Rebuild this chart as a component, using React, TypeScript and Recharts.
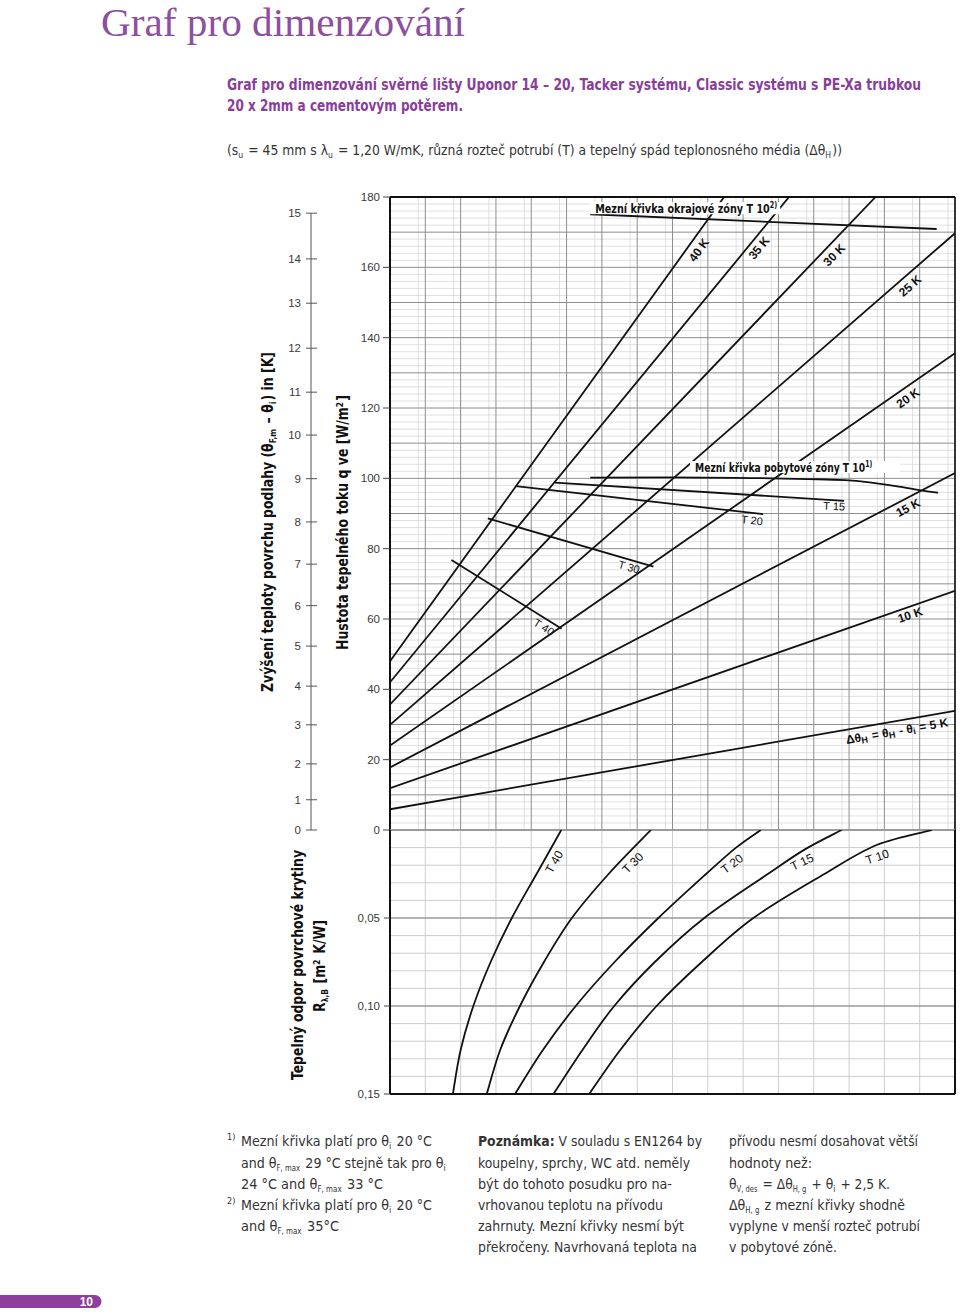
import React from "react";
import {
  LineChart,
  Line,
  XAxis,
  YAxis,
  CartesianGrid,
  ReferenceLine,
  ReferenceDot,
} from "recharts";

const NARROW = '"Liberation Sans Narrow", "DejaVu Sans Condensed", "Liberation Sans", sans-serif';
const SANS = '"Liberation Sans", "DejaVu Sans", sans-serif';
const SERIF = '"Liberation Serif", "DejaVu Serif", serif';
const PURPLE = "#8a3d99";
const TITLE_PURPLE = "#8d4f9f";
const INK = "#111";
const TEXT = "#333";

// ---------- upper diagram: q [W/m2] over the shared x scale (16 grid columns)
const qTicks = [0, 20, 40, 60, 80, 100, 120, 140, 160, 180];
const kLabels = ["0", "1", "2", "3", "4", "5", "6", "7", "8", "9", "10", "11", "12", "13", "14", "15"];
const kTickQ = [0, 8.6, 18.8, 29.9, 40.9, 52.3, 63.8, 75.6, 87.6, 99.9, 112.3, 124.5, 137.0, 149.8, 162.4, 175.4];

const dt40 = [{ x: 0, q: 48.0 }, { x: 9.46, q: 180 }];
const dt35 = [{ x: 0, q: 42.0 }, { x: 11.3, q: 180 }];
const dt30 = [{ x: 0, q: 35.7 }, { x: 13.75, q: 180 }];
const dt25 = [{ x: 0, q: 29.9 }, { x: 16, q: 169.7 }];
const dt20 = [{ x: 0, q: 24.0 }, { x: 16, q: 135.6 }];
const dt15 = [{ x: 0, q: 17.8 }, { x: 16, q: 101.5 }];
const dt10 = [{ x: 0, q: 11.9 }, { x: 16, q: 68.0 }];
const dt5 = [{ x: 0, q: 5.9 }, { x: 16, q: 33.9 }];

const limT40 = [{ x: 1.74, q: 76.8 }, { x: 4.86, q: 57.2 }];
const limT30 = [{ x: 2.77, q: 88.6 }, { x: 7.46, q: 74.9 }];
const limT20 = [{ x: 3.56, q: 97.8 }, { x: 10.57, q: 89.8 }];
const limT15 = [{ x: 4.67, q: 98.8 }, { x: 12.86, q: 93.6 }];
const limLiving = [
  { x: 5.67, q: 100.2 },
  { x: 8.0, q: 100.3 },
  { x: 10.78, q: 100.0 },
  { x: 11.83, q: 99.8 },
  { x: 12.88, q: 99.5 },
  { x: 14.46, q: 97.6 },
  { x: 15.09, q: 96.5 },
  { x: 15.52, q: 95.9 },
];
const limEdge = [{ x: 5.67, q: 175.1 }, { x: 15.48, q: 170.9 }];

const upperSeries = [
  { name: "40 K", data: dt40, curve: "linear" },
  { name: "35 K", data: dt35, curve: "linear" },
  { name: "30 K", data: dt30, curve: "linear" },
  { name: "25 K", data: dt25, curve: "linear" },
  { name: "20 K", data: dt20, curve: "linear" },
  { name: "15 K", data: dt15, curve: "linear" },
  { name: "10 K", data: dt10, curve: "linear" },
  { name: "5 K", data: dt5, curve: "linear" },
  { name: "T 40", data: limT40, curve: "linear" },
  { name: "T 30", data: limT30, curve: "linear" },
  { name: "T 20", data: limT20, curve: "linear" },
  { name: "T 15", data: limT15, curve: "linear" },
  { name: "T 10 living", data: limLiving, curve: "monotone" },
  { name: "T 10 edge", data: limEdge, curve: "linear" },
];

// ---------- lower diagram: R [m2K/W] (downwards) over the same x scale
const rTicks = [0.05, 0.1, 0.15];
const tc40 = [
  { x: 4.85, r: 0 }, { x: 4.15, r: 0.025 }, { x: 3.45, r: 0.05 }, { x: 2.85, r: 0.075 },
  { x: 2.36, r: 0.1 }, { x: 2.0, r: 0.125 }, { x: 1.78, r: 0.15 },
];
const tc30 = [
  { x: 7.39, r: 0 }, { x: 6.19, r: 0.025 }, { x: 5.15, r: 0.05 }, { x: 4.36, r: 0.075 },
  { x: 3.68, r: 0.1 }, { x: 3.12, r: 0.125 }, { x: 2.74, r: 0.15 },
];
const tc20 = [
  { x: 10.5, r: 0 }, { x: 9.8, r: 0.01 }, { x: 8.95, r: 0.025 }, { x: 7.6, r: 0.05 },
  { x: 6.36, r: 0.075 }, { x: 5.26, r: 0.1 }, { x: 4.33, r: 0.125 }, { x: 3.54, r: 0.15 },
];
const tc15 = [
  { x: 12.79, r: 0 }, { x: 11.75, r: 0.011 }, { x: 10.7, r: 0.025 }, { x: 8.9, r: 0.05 },
  { x: 7.5, r: 0.075 }, { x: 6.35, r: 0.1 }, { x: 5.45, r: 0.125 }, { x: 4.63, r: 0.15 },
];
const tc10 = [
  { x: 15.35, r: 0 }, { x: 13.78, r: 0.0085 }, { x: 12.3, r: 0.025 }, { x: 10.29, r: 0.05 },
  { x: 8.83, r: 0.075 }, { x: 7.55, r: 0.1 }, { x: 6.52, r: 0.125 }, { x: 5.64, r: 0.15 },
];
const lowerSeries = [
  { name: "T 40", data: tc40 },
  { name: "T 30", data: tc30 },
  { name: "T 20", data: tc20 },
  { name: "T 15", data: tc15 },
  { name: "T 10", data: tc10 },
];

// grid lines
const minorX = Array.from({ length: 81 }, (_, i) => i / 5).filter((_, i) => i % 5 !== 0);
const majorX = Array.from({ length: 17 }, (_, i) => i);
const minorQ = Array.from({ length: 91 }, (_, i) => i * 2).filter((v) => v % 10 !== 0);
const majorQ = Array.from({ length: 19 }, (_, i) => i * 10);
const minorR = Array.from({ length: 16 }, (_, i) => i / 100).filter((_, i) => i % 5 !== 0);

// annotation anchors in data units
const upperLabels = [
  { text: "40 K", x: 8.75, q: 164.9, angle: -54 },
  { text: "35 K", x: 10.45, q: 165.5, angle: -51 },
  { text: "30 K", x: 12.58, q: 163.5, angle: -46 },
  { text: "25 K", x: 14.73, q: 154.7, angle: -41 },
  { text: "20 K", x: 14.67, q: 122.8, angle: -35 },
  { text: "15 K", x: 14.67, q: 91.6, angle: -28 },
  { text: "10 K", x: 14.73, q: 61.1, angle: -19 },
];
const upperTLabels = [
  { text: "T 40", x: 4.36, q: 57.7, angle: 32 },
  { text: "T 30", x: 6.77, q: 74.8, angle: 16 },
  { text: "T 20", x: 10.25, q: 88.1, angle: 6 },
  { text: "T 15", x: 12.58, q: 92.1, angle: 3 },
];
const lowerLabels = [
  { text: "T 40", x: 4.65, r: 0.0182, angle: -60 },
  { text: "T 30", x: 6.88, r: 0.0188, angle: -45 },
  { text: "T 20", x: 9.69, r: 0.0193, angle: -37 },
  { text: "T 15", x: 11.67, r: 0.0182, angle: -25 },
  { text: "T 10", x: 13.8, r: 0.0153, angle: -18 },
];

// smooth curve through the points (Catmull-Rom as cubic Béziers), used as a Line type
function smoothCurve(context: any) {
  let pts: number[][] = [];
  return {
    areaStart() {},
    areaEnd() {},
    lineStart() {
      pts = [];
    },
    point(x: number, y: number) {
      pts.push([+x, +y]);
    },
    lineEnd() {
      const n = pts.length;
      if (!n) return;
      context.moveTo(pts[0][0], pts[0][1]);
      for (let i = 0; i < n - 1; i++) {
        const p0 = pts[Math.max(i - 1, 0)];
        const p1 = pts[i];
        const p2 = pts[i + 1];
        const p3 = pts[Math.min(i + 2, n - 1)];
        context.bezierCurveTo(
          p1[0] + (p2[0] - p0[0]) / 6,
          p1[1] + (p2[1] - p0[1]) / 6,
          p2[0] - (p3[0] - p1[0]) / 6,
          p2[1] - (p3[1] - p1[1]) / 6,
          p2[0],
          p2[1]
        );
      }
    },
  };
}

const Sub = ({ t, s = 9, d = 3 }: { t: string; s?: number; d?: number }) => (
  <>
    <tspan dy={d} fontSize={s}>{t}</tspan>
    <tspan dy={-d}>{"\u200a"}</tspan>
  </>
);
const Sup = ({ t, s = 8 }: { t: string; s?: number }) => (
  <>
    <tspan dy={-5} fontSize={s}>{t}</tspan>
    <tspan dy={5}>{"\u200a"}</tspan>
  </>
);

const rot = (content: React.ReactNode, angle: number, style: any) => (p: any) => (
  <text
    x={p.cx}
    y={p.cy}
    transform={`rotate(${angle} ${p.cx} ${p.cy})`}
    textAnchor="middle"
    dominantBaseline="central"
    fill={INK}
    {...style}
  >
    {content}
  </text>
);

const boxed = (content: React.ReactNode, len: number, boxW: number) => (p: any) => (
  <g>
    <rect x={p.cx - 5} y={p.cy - 11} width={boxW} height={12} fill="#fff" />
    <text
      x={p.cx}
      y={p.cy}
      textLength={len}
      lengthAdjust="spacingAndGlyphs"
      fontFamily={NARROW}
      fontWeight="bold"
      fontSize={12}
      fill={INK}
    >
      {content}
    </text>
  </g>
);

const UP_PLOT_BOTTOM = 645; // 830 - 185
const KAX = 71; // 311 - 240

function KTick(props: any) {
  const { y, payload } = props;
  const i = kTickQ.indexOf(payload.value);
  return (
    <g>
      {i === kTickQ.length - 1 && (
        <line x1={KAX} x2={KAX} y1={y} y2={UP_PLOT_BOTTOM} stroke="#555" strokeWidth={1} />
      )}
      <line x1={KAX - 5} x2={KAX + 6} y1={y} y2={y} stroke="#555" strokeWidth={1} />
      <text x={KAX - 10} y={y} dy={4} textAnchor="end" fontSize={11.5} fontFamily={SANS} fill="#3a3a3a">
        {kLabels[i]}
      </text>
    </g>
  );
}

function UpperChart() {
  return (
    <LineChart width={720} height={650} margin={{ top: 12, right: 5, bottom: 5, left: 0 }}>
      <CartesianGrid verticalValues={minorX} horizontalValues={minorQ} stroke="#d2d2d2" strokeWidth={0.7} />
      <CartesianGrid verticalValues={majorX} horizontalValues={majorQ} stroke="#8e8e8e" strokeWidth={1} />
      <XAxis type="number" dataKey="x" domain={[0, 16]} allowDataOverflow hide />
      <YAxis
        type="number"
        domain={[0, 180]}
        ticks={qTicks}
        interval={0}
        width={60}
        tickSize={7}
        tickMargin={3}
        axisLine={false}
        tickLine={{ stroke: "#444" }}
        tick={{ fontSize: 11.5, fill: "#3a3a3a", fontFamily: SANS }}
        allowDataOverflow
      />
      <YAxis
        yAxisId="k"
        type="number"
        domain={[0, 180]}
        ticks={kTickQ}
        interval={0}
        width={90}
        axisLine={false}
        tickLine={false}
        tick={(p: any) => <KTick {...p} />}
        allowDataOverflow
      />
      <ReferenceLine x={0} stroke={INK} strokeWidth={2} />
      <ReferenceLine y={180} stroke={INK} strokeWidth={2} />
      <ReferenceLine x={16} stroke={INK} strokeWidth={1.6} />
      {upperSeries.map((s) => (
        <Line
          key={s.name}
          name={s.name}
          data={s.data}
          dataKey="q"
          type={s.curve as any}
          stroke={INK}
          strokeWidth={1.8}
          dot={false}
          activeDot={false}
          isAnimationActive={false}
        />
      ))}
      {upperLabels.map((l) => (
        <ReferenceDot
          key={l.text}
          x={l.x}
          y={l.q}
          r={1}
          shape={rot(l.text, l.angle, { fontFamily: SANS, fontWeight: "bold", fontSize: 12 })}
        />
      ))}
      {upperTLabels.map((l) => (
        <ReferenceDot
          key={"u" + l.text}
          x={l.x}
          y={l.q}
          r={1}
          shape={rot(l.text, l.angle, { fontFamily: SANS, fontSize: 11 })}
        />
      ))}
      <ReferenceDot
        x={14.36}
        y={28.1}
        r={1}
        shape={rot(
          <>
            Δθ<Sub t="H" /> = θ<Sub t="H" /> - θ<Sub t="i" /> = 5 K
          </>,
          -10,
          { fontFamily: SANS, fontWeight: "bold", fontSize: 12 }
        )}
      />
      <ReferenceDot
        x={5.81}
        y={175.4}
        r={1}
        shape={boxed(
          <>
            Mezní křivka okrajové zóny T 10<Sup t="2)" />
          </>,
          183,
          190
        )}
      />
      <ReferenceDot
        x={8.64}
        y={101.8}
        r={1}
        shape={boxed(
          <>
            Mezní křivka pobytové zóny T 10<Sup t="1)" />
          </>,
          178,
          210
        )}
      />
    </LineChart>
  );
}

function LowerChart() {
  return (
    <LineChart width={720} height={275} margin={{ top: 5, right: 5, bottom: 6, left: 0 }}>
      <CartesianGrid verticalValues={majorX} horizontalValues={minorR} stroke="#cdcdcd" strokeWidth={1} />
      <CartesianGrid vertical={false} horizontalValues={[0.05, 0.1]} stroke="#9a9a9a" strokeWidth={1.6} />
      <XAxis type="number" dataKey="x" domain={[0, 16]} allowDataOverflow hide />
      <YAxis
        type="number"
        domain={[0, 0.15]}
        reversed
        ticks={rTicks}
        interval={0}
        width={150}
        tickSize={6}
        tickMargin={4}
        axisLine={false}
        tickLine={{ stroke: "#444" }}
        tickFormatter={(v: number) => v.toFixed(2).replace(".", ",")}
        tick={{ fontSize: 11.5, fill: "#3a3a3a", fontFamily: SANS }}
        allowDataOverflow
      />
      <ReferenceLine y={0} stroke="#8e8e8e" strokeWidth={1.5} />
      <ReferenceLine x={0} stroke={INK} strokeWidth={2} />
      <ReferenceLine x={16} stroke={INK} strokeWidth={2} />
      <ReferenceLine y={0.15} stroke={INK} strokeWidth={2.2} />
      {lowerSeries.map((s) => (
        <Line
          key={s.name}
          name={s.name}
          data={s.data}
          dataKey="r"
          type={smoothCurve as any}
          stroke={INK}
          strokeWidth={1.8}
          dot={false}
          activeDot={false}
          isAnimationActive={false}
        />
      ))}
      {lowerLabels.map((l) => (
        <ReferenceDot
          key={l.text}
          x={l.x}
          y={l.r}
          r={1}
          shape={rot(l.text, l.angle, { fontFamily: SANS, fontSize: 12 })}
        />
      ))}
    </LineChart>
  );
}

type LineProps = { x: number; y: number; w?: number; size?: number; bold?: boolean; fill?: string; children: React.ReactNode };
const TL = ({ x, y, w, size = 14.5, bold, fill = TEXT, children }: LineProps) => (
  <text
    x={x}
    y={y}
    textLength={w}
    lengthAdjust={w ? "spacingAndGlyphs" : undefined}
    fontFamily={NARROW}
    fontSize={size}
    fontWeight={bold ? "bold" : "normal"}
    fill={fill}
  >
    {children}
  </text>
);

export default function App() {
  return (
    <div style={{ position: "absolute", left: 0, top: 0, width: 960, height: 1315, background: "#fff" }}>
      <div style={{ position: "absolute", left: 240, top: 185 }}>
        <UpperChart />
      </div>
      <div style={{ position: "absolute", left: 240, top: 825 }}>
        <LowerChart />
      </div>

      <svg width={960} height={1315} style={{ position: "absolute", left: 0, top: 0, pointerEvents: "none" }}>
        <text x={101} y={36} fontFamily={SERIF} fontSize={40} fill={TITLE_PURPLE} textLength={364} lengthAdjust="spacingAndGlyphs">
          Graf pro dimenzování
        </text>

        <TL x={227} y={90} w={694} size={15} bold fill={PURPLE}>
          Graf pro dimenzování svěrné lišty Uponor 14 – 20, Tacker systému, Classic systému s PE-Xa trubkou
        </TL>
        <TL x={227} y={111} w={236} size={15} bold fill={PURPLE}>
          20 x 2mm a cementovým potěrem.
        </TL>
        <TL x={227} y={155} w={615} size={14.5}>
          (s<Sub t="u" /> = 45 mm s λ<Sub t="u" /> = 1,20 W/mK, různá rozteč potrubí (T) a tepelný spád teplonosného média (Δθ<Sub t="H" />))
        </TL>

        {/* axis titles */}
        <text transform="translate(272.5,522) rotate(-90)" textAnchor="middle" fontFamily={NARROW} fontWeight="bold" fontSize={15} fill={INK} textLength={340} lengthAdjust="spacingAndGlyphs">
          Zvýšení teploty povrchu podlahy (θ<Sub t="F,m" /> – θ<Sub t="i" />) in [K]
        </text>
        <text transform="translate(348,522.5) rotate(-90)" textAnchor="middle" fontFamily={NARROW} fontWeight="bold" fontSize={15} fill={INK} textLength={255} lengthAdjust="spacingAndGlyphs">
          Hustota tepelného toku q ve [W/m<Sup t="2" s={9} />]
        </text>
        <text transform="translate(303,965) rotate(-90)" textAnchor="middle" fontFamily={NARROW} fontWeight="bold" fontSize={15} fill={INK} textLength={230} lengthAdjust="spacingAndGlyphs">
          Tepelný odpor povrchové krytiny
        </text>
        <text transform="translate(325,966) rotate(-90)" textAnchor="middle" fontFamily={NARROW} fontWeight="bold" fontSize={15} fill={INK} textLength={92} lengthAdjust="spacingAndGlyphs">
          R<Sub t="λ,B" /> [m<Sup t="2" s={9} /> K/W]
        </text>

        {/* footnotes */}
        <TL x={227} y={1140} size={9}>1)</TL>
        <TL x={241} y={1146} w={191}>Mezní křivka platí pro θ<Sub t="i" /> 20 °C</TL>
        <TL x={241} y={1168} w={206}>and θ<Sub t="F, max" s={8} /> 29 °C stejně tak pro θ<Sub t="i" /></TL>
        <TL x={241} y={1189} w={142}>24 °C and θ<Sub t="F, max" s={8} /> 33 °C</TL>
        <TL x={227} y={1204} size={9}>2)</TL>
        <TL x={241} y={1210} w={191}>Mezní křivka platí pro θ<Sub t="i" /> 20 °C</TL>
        <TL x={241} y={1231} w={98}>and θ<Sub t="F, max" s={8} /> 35°C</TL>

        <TL x={478} y={1146} w={224}><tspan fontWeight="bold">Poznámka:</tspan> V souladu s EN1264 by</TL>
        <TL x={478} y={1168} w={212}>koupelny, sprchy, WC atd. neměly</TL>
        <TL x={478} y={1189} w={194}>být do tohoto posudku pro na-</TL>
        <TL x={478} y={1210} w={185}>vrhovanou teplotu na přívodu</TL>
        <TL x={478} y={1231} w={206}>zahrnuty. Mezní křivky nesmí být</TL>
        <TL x={478} y={1252} w={219}>překročeny. Navrhovaná teplota na</TL>

        <TL x={729} y={1146} w={189}>přívodu nesmí dosahovat větší</TL>
        <TL x={729} y={1168} w={83}>hodnoty než:</TL>
        <TL x={729} y={1189} w={161}>θ<Sub t="V, des" s={8} /> = Δθ<Sub t="H, g" s={8} /> + θ<Sub t="i" /> + 2,5 K.</TL>
        <TL x={729} y={1210} w={176}>Δθ<Sub t="H, g" s={8} /> z mezní křivky shodně</TL>
        <TL x={729} y={1231} w={191}>vyplyne v menší rozteč potrubí</TL>
        <TL x={729} y={1252} w={108}>v pobytové zóně.</TL>

        {/* page number tab */}
        <path d="M0 1295 H95 A6.5 6.5 0 0 1 95 1308 H0 Z" fill="#8e3f9e" />
        <text x={93} y={1306} textAnchor="end" fontFamily={SANS} fontWeight="bold" fontSize={12} fill="#fff">
          10
        </text>
      </svg>
    </div>
  );
}
